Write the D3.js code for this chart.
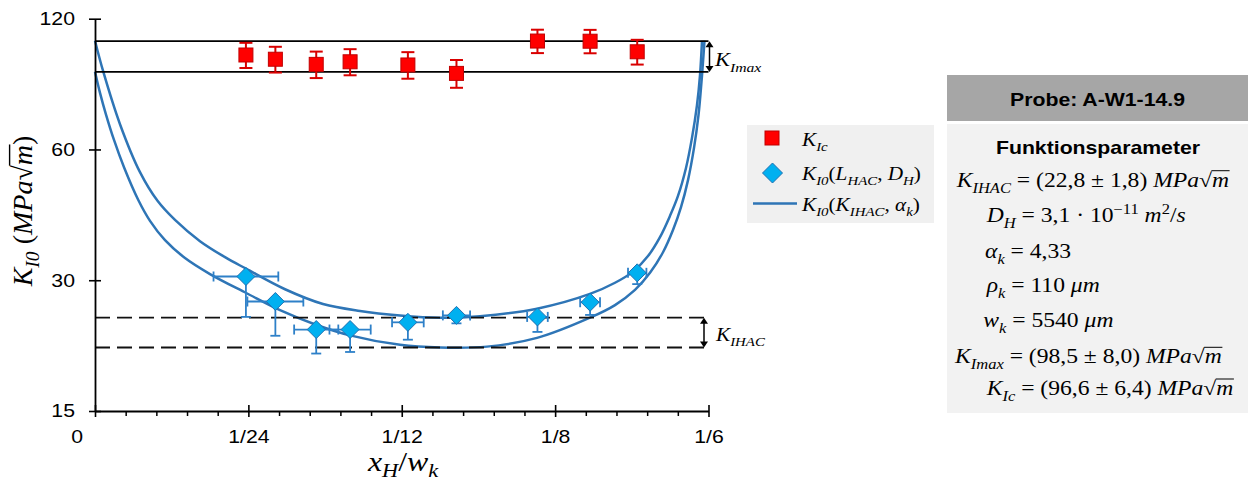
<!DOCTYPE html>
<html>
<head>
<meta charset="utf-8">
<script src="https://cdn.jsdelivr.net/npm/d3@7"></script>
<style>
  html, body { margin: 0; padding: 0; background: #fff; }
  svg { display: block; }
</style>
</head>
<body>
<svg id="chart" width="1252" height="486"></svg>
<script>
// ---------- data ----------
const xTickValues = [0, 1/24, 1/12, 1/8, 1/6];
const xTickLabels = ["0", "1/24", "1/12", "1/8", "1/6"];
const yTickValues = [15, 30, 60, 120];

// notch positions x_H / w_k of the specimens
const samplePos = [0.0410, 0.0490, 0.0601, 0.0693, 0.0850, 0.0982, 0.1202, 0.1345, 0.1473];
// fracture toughness K_Ic and its scatter
const kIc = [99.0, 96.8, 94.2, 95.5, 93.9, 89.8, 106.6, 106.5, 100.7];
const kIcErr = [6.6, 6.6, 6.6, 6.6, 6.6, 6.6, 6.6, 6.6, 6.6];
// threshold K_I0(L_HAC, D_H) with lower error and position error
const kI0 = [30.6, 26.8, 23.1, 23.1, 24.0, 24.9, 24.7, 26.7, 31.2];
const kI0ErrMinus = [5.9, 4.45, 2.76, 2.59, 2.11, 1.03, 1.89, 1.74, 1.81];
const posErr = [0.0088, 0.0076, 0.0060, 0.0056, 0.0043, 0.0037, 0.0028, 0.0027, 0.0025];

// model curve K_I0(K_IHAC, alpha_k), upper band
const upperX = [0, 0.00225, 0.00679, 0.01222, 0.01698, 0.02173, 0.02852, 0.03532, 0.04102,
                0.05162, 0.06194, 0.07199, 0.08286, 0.09373, 0.10459, 0.12008, 0.13447,
                0.14127, 0.14616, 0.15023, 0.15349, 0.15621, 0.15838, 0.16055, 0.16218,
                0.16354, 0.16436, 0.16490];
const upperK = [106.8, 90.6, 68.6, 53.2, 45.7, 41.3, 36.9, 33.9, 31.9,
                28.6, 26.45, 25.5, 24.9, 24.6, 24.8, 25.8, 27.9,
                29.6, 31.4, 34.1, 37.7, 42.2, 46.9, 54.4, 63.8,
                75.9, 89.0, 106.8];
// model curve, lower band
const lowerX = [0, 0.00136, 0.00299, 0.00516, 0.00788, 0.01176, 0.01494, 0.01902, 0.02445,
                0.03124, 0.04121, 0.05026, 0.06004, 0.06928, 0.08286, 0.09373, 0.10649,
                0.12008, 0.13447, 0.14127, 0.14670, 0.15077, 0.15431, 0.15702, 0.15920,
                0.16110, 0.16273, 0.16395, 0.16476, 0.16531, 0.16558];
const lowerK = [90.6, 81.0, 72.2, 63.1, 54.6, 45.9, 41.1, 37.1, 33.75,
                31.0, 28.0, 25.6, 23.7, 22.4, 21.3, 21.0, 21.1,
                22.1, 24.6, 26.3, 28.5, 31.2, 34.8, 39.15, 44.2,
                51.0, 60.5, 72.0, 85.8, 99.0, 106.8];

// function parameters of specimen A-W1-14.9
const specimen = "A-W1-14.9";
const kIHAC = 22.8, kIHACErr = 1.8;
const kImax = 98.5, kImaxErr = 8.0;
const kIcMean = 96.6, kIcMeanErr = 6.4;
const diffH = "3,1", diffExp = "−11";
const alphaK = "4,33";
const rhoK = 110;
const wK = 5540;

// ---------- setup ----------
const svg = d3.select("#chart");
const SX = 1.18;   // horizontal glyph stretch of all labels
const SERIF = "'Liberation Serif','Times New Roman',serif";
const SANS = "'Liberation Sans',Arial,sans-serif";
const BLUE = "#2E75B6";
const RED = "#FF0000";

const x = d3.scaleLinear().domain([0, 1/6]).range([95, 708.5]);
const y = d3.scaleLog().domain([15, 120]).range([411, 18.7]);

const dec = v => v.toFixed(1).replace(".", ",");

// italic-math style label built from [text, kind] parts
function mathLabel(parent, px, py, parts, size, anchor = "start", sx = SX, subOff = 0.3) {
  const g = parent.append("g").attr("transform", `translate(${px},${py}) scale(${sx},1)`);
  const t = g.append("text")
    .attr("font-family", SERIF).attr("font-size", size)
    .attr("text-anchor", anchor).attr("fill", "#000");
  let cur = 0;
  const bars = [];
  for (const [s, k] of parts) {
    let off = 0, fs = size, st = "italic";
    if (k === "r") st = "normal";
    else if (k === "sb") { off = subOff * size; fs = 0.7 * size; }
    else if (k === "sp") { off = -0.42 * size; fs = 0.7 * size; st = "normal"; }
    const ts = t.append("tspan")
      .attr("dy", off - cur).attr("font-size", fs).attr("font-style", st).text(s);
    cur = off;
    if (k === "ov") bars.push(ts.node());
  }
  bars.forEach(n => {
    const a = n.getStartPositionOfChar(0).x;
    const b = n.getEndPositionOfChar(n.getNumberOfChars() - 1).x;
    g.append("line")
      .attr("x1", a - 0.5).attr("x2", b + 0.5)
      .attr("y1", -0.8 * size).attr("y2", -0.8 * size)
      .attr("stroke", "#000").attr("stroke-width", size * 0.05);
  });
  return g;
}

function plainLabel(parent, px, py, str, size, weight, anchor) {
  parent.append("g").attr("transform", `translate(${px},${py}) scale(${SX},1)`)
    .append("text")
    .attr("font-family", SANS).attr("font-size", size).attr("font-weight", weight)
    .attr("text-anchor", anchor).attr("fill", "#000").text(str);
}

// ---------- model curves ----------
const line = d3.line().x(d => x(d[0])).y(d => y(d[1])).curve(d3.curveCatmullRom.alpha(0.5));
[[upperX, upperK], [lowerX, lowerK]].forEach(([xs, ks]) => {
  svg.append("path").datum(d3.zip(xs, ks)).attr("d", line)
    .attr("fill", "none").attr("stroke", BLUE).attr("stroke-width", 2.5);
});

// ---------- K_Imax and K_IHAC bands ----------
const xEnd = x(1/6);
[kImax - kImaxErr, kImax + kImaxErr].forEach(v => {
  svg.append("line").attr("x1", x(0)).attr("x2", xEnd).attr("y1", y(v)).attr("y2", y(v))
    .attr("stroke", "#000").attr("stroke-width", 1.8);
});
[kIHAC - kIHACErr, kIHAC + kIHACErr].forEach(v => {
  svg.append("line").attr("x1", x(0)).attr("x2", xEnd).attr("y1", y(v)).attr("y2", y(v))
    .attr("stroke", "#111").attr("stroke-width", 1.8).attr("stroke-dasharray", "15,7");
});

function doubleArrow(px, v0, v1) {
  const y0 = y(v0), y1 = y(v1);
  svg.append("line").attr("x1", px).attr("x2", px).attr("y1", y0 - 5).attr("y2", y1 + 5)
    .attr("stroke", "#000").attr("stroke-width", 1.5);
  svg.append("path").attr("d", `M${px - 4},${y0 - 6} L${px},${y0} L${px + 4},${y0 - 6} Z`).attr("fill", "#000");
  svg.append("path").attr("d", `M${px - 4},${y1 + 6} L${px},${y1} L${px + 4},${y1 + 6} Z`).attr("fill", "#000");
}
doubleArrow(xEnd + 1, kImax - kImaxErr, kImax + kImaxErr);
doubleArrow(xEnd - 4.5, kIHAC - kIHACErr, kIHAC + kIHACErr);
mathLabel(svg, 715, 66, [["K", "i"], ["Imax", "sb"]], 19);
mathLabel(svg, 716, 341, [["K", "i"], ["IHAC", "sb"]], 18);

// ---------- axes ----------
const minorX = d3.range(1, 20).filter(i => i % 5 !== 0).map(i => i / 120);
const gxMinor = svg.append("g").attr("transform", `translate(0,${y(15)})`)
  .call(d3.axisBottom(x).tickValues(minorX).tickSize(5).tickSizeOuter(0).tickFormat(""));
gxMinor.select(".domain").remove();
gxMinor.selectAll("line").attr("stroke", "#000").attr("stroke-width", 1.5);

const gx = svg.append("g").attr("transform", `translate(0,${y(15)})`)
  .call(d3.axisBottom(x).tickValues(xTickValues).tickSizeInner(6).tickSizeOuter(0)
    .tickPadding(13).tickFormat((d, i) => xTickLabels[i]));
gx.select(".domain").attr("stroke", "#000").attr("stroke-width", 1.8);
gx.selectAll(".tick line").attr("stroke", "#000").attr("stroke-width", 1.6);
gx.selectAll(".tick").append("line").attr("y1", 0).attr("y2", -6).attr("stroke", "#000").attr("stroke-width", 1.6);
gx.selectAll(".tick text")
  .attr("font-family", SANS).attr("font-size", 18).attr("fill", "#000")
  .attr("transform", `scale(${SX},1)`)
  .attr("x", (d, i) => i === 0 ? -15.5 : 0);

const gy = svg.append("g").attr("transform", `translate(${x(0)},0)`)
  .call(d3.axisLeft(y).tickValues(yTickValues).tickSizeInner(6).tickSizeOuter(0)
    .tickPadding(11).tickFormat(d3.format("d")));
gy.select(".domain").attr("stroke", "#000").attr("stroke-width", 1.8);
gy.selectAll(".tick line").attr("stroke", "#000").attr("stroke-width", 1.6);
gy.selectAll(".tick").append("line").attr("x1", 0).attr("x2", 6).attr("stroke", "#000").attr("stroke-width", 1.6);
gy.selectAll(".tick text")
  .attr("font-family", SANS).attr("font-size", 18).attr("fill", "#000")
  .attr("transform", `scale(${SX},1)`);

// axis titles
mathLabel(svg, 403, 471, [["x", "i"], ["H", "sb"], ["/", "r"], ["w", "i"], ["k", "sb"]], 27, "middle", SX, 0.22);
const yTitle = svg.append("g").attr("transform", "translate(32,211) rotate(-90)");
mathLabel(yTitle, 0, 0, [["K", "i"], ["I0", "sb"], [" (", "r"], ["MPa", "i"], ["√", "r"], ["m", "ov"], [")", "r"]], 28, "middle", 1, 0.25);

// ---------- K_Ic points ----------
const pts = d3.range(samplePos.length);
const gIc = svg.append("g");
pts.forEach(i => {
  const cx = x(samplePos[i]);
  const yt = y(kIc[i] + kIcErr[i]), yb = y(kIc[i] - kIcErr[i]);
  gIc.append("line").attr("x1", cx).attr("x2", cx).attr("y1", yt).attr("y2", yb)
    .attr("stroke", "#D90000").attr("stroke-width", 2);
  [yt, yb].forEach(yy => gIc.append("line").attr("x1", cx - 6.5).attr("x2", cx + 6.5)
    .attr("y1", yy).attr("y2", yy).attr("stroke", "#D90000").attr("stroke-width", 2));
});
gIc.selectAll("rect").data(pts).join("rect")
  .attr("x", i => x(samplePos[i]) - 7).attr("y", i => y(kIc[i]) - 7)
  .attr("width", 14).attr("height", 14)
  .attr("fill", RED).attr("stroke", "#C00000").attr("stroke-width", 1);

// ---------- K_I0 points ----------
const gI0 = svg.append("g");
const EB = "#2E80C8";
pts.forEach(i => {
  const cx = x(samplePos[i]), cy = y(kI0[i]);
  const xl = x(samplePos[i] - posErr[i]), xr = x(samplePos[i] + posErr[i]);
  const yb = y(kI0[i] - kI0ErrMinus[i]);
  gI0.append("line").attr("x1", xl).attr("x2", xr).attr("y1", cy).attr("y2", cy)
    .attr("stroke", EB).attr("stroke-width", 1.8);
  [xl, xr].forEach(xx => gI0.append("line").attr("x1", xx).attr("x2", xx)
    .attr("y1", cy - 5).attr("y2", cy + 5).attr("stroke", EB).attr("stroke-width", 1.8));
  gI0.append("line").attr("x1", cx).attr("x2", cx).attr("y1", cy).attr("y2", yb)
    .attr("stroke", EB).attr("stroke-width", 1.8);
  gI0.append("line").attr("x1", cx - 5).attr("x2", cx + 5).attr("y1", yb).attr("y2", yb)
    .attr("stroke", EB).attr("stroke-width", 1.8);
});
const diamond = (cx, cy, r) => `M${cx},${cy - r} L${cx + r},${cy} L${cx},${cy + r} L${cx - r},${cy} Z`;
gI0.selectAll("path").data(pts).join("path")
  .attr("d", i => diamond(x(samplePos[i]), y(kI0[i]), 9))
  .attr("fill", "#00B0F0").attr("stroke", "#1F6FB0").attr("stroke-width", 1);

// ---------- legend ----------
const lg = svg.append("g");
lg.append("rect").attr("x", 747).attr("y", 125).attr("width", 187).attr("height", 98).attr("fill", "#F0F0F0");
lg.append("rect").attr("x", 765).attr("y", 131).attr("width", 14).attr("height", 14)
  .attr("fill", RED).attr("stroke", "#C00000").attr("stroke-width", 1);
lg.append("path").attr("d", diamond(772.5, 173, 10)).attr("fill", "#00B0F0").attr("stroke", "#1F6FB0").attr("stroke-width", 1);
lg.append("line").attr("x1", 753).attr("x2", 797).attr("y1", 203.5).attr("y2", 203.5)
  .attr("stroke", BLUE).attr("stroke-width", 2.5);
mathLabel(lg, 802, 146, [["K", "i"], ["Ic", "sb"]], 18);
mathLabel(lg, 802, 180, [["K", "i"], ["I0", "sb"], ["(", "r"], ["L", "i"], ["HAC", "sb"], [", ", "r"], ["D", "i"], ["H", "sb"], [")", "r"]], 18);
mathLabel(lg, 802, 211, [["K", "i"], ["I0", "sb"], ["(", "r"], ["K", "i"], ["IHAC", "sb"], [", ", "r"], ["α", "i"], ["k", "sb"], [")", "r"]], 18);

// ---------- parameter box ----------
const pb = svg.append("g");
pb.append("rect").attr("x", 947).attr("y", 75).attr("width", 301).attr("height", 46).attr("fill", "#A6A6A6");
pb.append("rect").attr("x", 947).attr("y", 124).attr("width", 301).attr("height", 289).attr("fill", "#F2F2F2");
plainLabel(pb, 1097.5, 106, "Probe: " + specimen, 18, "bold", "middle");
plainLabel(pb, 1098, 154, "Funktionsparameter", 18, "bold", "middle");

const PS = 20;
mathLabel(pb, 956.7, 186.7, [["K", "i"], ["IHAC", "sb"], [` = (${dec(kIHAC)} ± ${dec(kIHACErr)}) `, "r"], ["MPa", "i"], ["√", "r"], ["m", "ov"]], PS);
mathLabel(pb, 986.7, 222.3, [["D", "i"], ["H", "sb"], [` = ${diffH} · 10`, "r"], [diffExp, "sp"], ["  ", "r"], ["m", "i"], ["2", "sp"], ["/", "r"], ["s", "i"]], PS);
mathLabel(pb, 985, 258.3, [["α", "i"], ["k", "sb"], [` = ${alphaK}`, "r"]], PS);
mathLabel(pb, 986.7, 291.7, [["ρ", "i"], ["k", "sb"], [` = ${rhoK} `, "r"], ["μm", "i"]], PS);
mathLabel(pb, 983.3, 327.3, [["w", "i"], ["k", "sb"], [` = ${wK} `, "r"], ["μm", "i"]], PS);
mathLabel(pb, 955, 363.3, [["K", "i"], ["Imax", "sb"], [` = (${dec(kImax)} ± ${dec(kImaxErr)}) `, "r"], ["MPa", "i"], ["√", "r"], ["m", "ov"]], PS);
mathLabel(pb, 986.7, 395, [["K", "i"], ["Ic", "sb"], [` = (${dec(kIcMean)} ± ${dec(kIcMeanErr)}) `, "r"], ["MPa", "i"], ["√", "r"], ["m", "ov"]], PS);
</script>
</body>
</html>
